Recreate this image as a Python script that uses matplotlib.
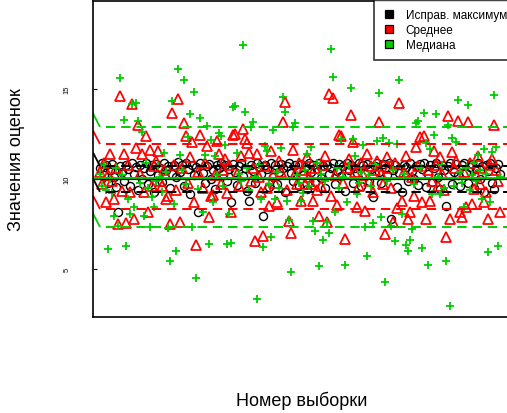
import matplotlib
matplotlib.use("Agg")
import matplotlib.pyplot as plt
from matplotlib.lines import Line2D
import numpy as np

plt.rcParams['font.family'] = ['Liberation Sans', 'DejaVu Sans']
plt.rcParams['lines.scale_dashes'] = False

# ---- data ----
sample_no = list(range(1, 201))

corr_max = [
    10.6, 10.9, 10.2, 10.75, 9.8, 10.5, 10.85, 10.1, 9.56, 8.17, 10.7, 10.4, 9.9, 10.8, 10.55, 9.6, 10.9, 10.3, 10.65, 9.4,
    10.8, 10.0, 10.6, 10.9, 9.7, 10.45, 10.75, 9.3, 10.85, 10.2, 10.6, 9.85, 10.9, 10.5, 10.7, 9.5, 10.3, 10.8, 10.1, 10.95,
    10.4, 10.75, 9.6, 10.9, 10.55, 9.17, 10.8, 10.2, 10.65, 8.17, 10.9, 10.35, 9.75, 10.7, 10.85, 10.0, 10.5, 9.45, 10.8, 10.6,
    10.9, 10.3, 10.75, 9.9, 10.55, 8.72, 10.85, 10.4, 9.65, 10.7, 10.9, 10.15, 10.6, 9.35, 8.78, 10.8, 10.45, 9.8, 10.9, 10.65,
    10.3, 7.94, 10.75, 10.55, 9.55, 10.9, 10.1, 10.8, 9.7, 10.4, 10.85, 10.6, 9.25, 10.7, 10.9, 10.35, 9.9, 10.75, 10.5, 9.6,
    10.85, 10.2, 10.65, 9.45, 10.9, 10.4, 10.75, 9.85, 10.55, 10.9, 10.05, 10.7, 9.5, 10.8, 10.3, 10.6, 10.9, 9.7, 10.45, 10.85,
    10.15, 10.7, 9.35, 10.9, 10.5, 10.8, 9.8, 10.6, 10.35, 10.9, 9.6, 10.75, 10.25, 10.85, 9.9, 10.55, 9.0, 10.7, 10.9, 10.4,
    9.75, 10.85, 10.6, 10.2, 10.9, 7.78, 10.5, 10.75, 9.55, 10.35, 9.28, 10.8, 10.65, 9.9, 10.9, 10.45, 10.0, 10.7, 9.65, 10.85,
    10.55, 10.9, 9.56, 10.3, 10.75, 9.85, 10.6, 10.9, 10.1, 9.45, 10.8, 10.5, 8.5, 10.7, 10.9, 9.7, 10.4, 10.85, 10.2, 9.6,
    10.75, 10.9, 10.35, 9.8, 10.65, 10.85, 9.5, 10.55, 10.9, 10.0, 10.7, 9.3, 10.8, 10.45, 10.9, 9.75, 9.44, 10.6, 10.85, 10.25,
]

mean_est = [
    10.4, 9.7, 10.9, 8.7, 10.2, 11.39, 9.9, 8.89, 10.6, 7.5, 14.61, 9.33, 11.39, 7.56, 10.8, 9.28, 14.17, 7.78, 11.72, 13.0,
    10.3, 11.39, 9.28, 12.39, 8.17, 11.61, 9.6, 10.7, 11.0, 11.56, 9.9, 9.61, 10.5, 8.9, 9.06, 7.5, 13.67, 10.8, 9.4, 14.44,
    7.61, 10.6, 13.11, 12.39, 9.8, 11.22, 12.06, 8.72, 6.33, 10.4, 12.44, 9.5, 10.9, 11.83, 7.89, 9.06, 9.11, 10.2, 12.11, 11.39,
    9.7, 10.5, 11.1, 9.2, 10.8, 8.17, 12.44, 12.5, 10.3, 9.6, 11.3, 12.78, 12.22, 12.0, 11.44, 9.9, 10.6, 6.56, 11.39, 10.1,
    9.28, 6.83, 10.7, 9.5, 8.5, 11.56, 10.2, 9.78, 8.72, 11.0, 10.4, 13.17, 14.28, 9.39, 7.67, 7.0, 11.61, 10.3, 9.72, 10.9,
    8.78, 10.5, 9.72, 11.2, 10.1, 9.72, 8.78, 10.6, 9.4, 7.94, 9.61, 10.8, 11.3, 7.61, 14.72, 9.06, 14.5, 10.2, 8.56, 12.44,
    12.39, 9.8, 6.67, 10.6, 11.1, 13.56, 12.06, 10.4, 8.44, 9.6, 10.9, 10.2, 8.22, 11.4, 9.9, 10.7, 9.3, 10.5, 11.0, 13.17,
    10.3, 9.7, 6.94, 11.22, 10.6, 9.5, 7.61, 10.9, 8.39, 14.22, 8.78, 10.4, 11.3, 7.78, 8.17, 10.1, 9.06, 11.78, 10.7, 12.33,
    8.72, 12.39, 7.78, 10.5, 8.78, 9.9, 11.56, 10.8, 9.6, 11.2, 10.3, 9.4, 6.78, 13.5, 7.78, 11.5, 10.6, 11.0, 13.22, 8.17,
    7.89, 10.4, 8.44, 13.17, 10.9, 8.61, 9.44, 10.2, 11.3, 9.7, 10.6, 8.72, 9.28, 7.78, 10.8, 11.1, 13.0, 10.5, 9.9, 8.17,
]

median_est = [
    10.3, 9.6, 10.8, 9.4, 6.11, 10.0, 9.22, 7.94, 10.6, 7.39, 15.61, 10.2, 13.28, 6.28, 8.89, 8.06, 14.17, 8.44, 14.22, 13.22,
    9.8, 12.61, 7.94, 10.9, 9.5, 7.33, 9.0, 8.44, 9.89, 10.7, 10.1, 9.28, 11.44, 10.4, 7.28, 5.44, 14.33, 8.61, 6.0, 16.11,
    11.33, 10.5, 15.5, 9.7, 12.33, 13.61, 7.33, 14.83, 4.5, 9.44, 13.39, 8.17, 11.33, 12.94, 6.39, 12.17, 8.72, 11.28, 10.2, 12.56,
    12.39, 9.6, 11.89, 6.39, 8.06, 6.44, 14.0, 14.06, 11.44, 10.3, 9.9, 17.44, 13.72, 10.6, 9.4, 12.89, 13.17, 10.1, 3.33, 10.8,
    8.89, 6.22, 11.83, 11.56, 9.7, 6.78, 12.72, 8.89, 10.4, 9.5, 11.72, 14.56, 13.72, 8.78, 7.72, 4.83, 12.89, 13.11, 10.2, 9.8,
    8.78, 9.22, 10.5, 11.39, 9.6, 11.78, 7.67, 7.11, 10.9, 5.17, 10.3, 6.61, 9.9, 7.61, 7.0, 17.22, 15.67, 8.17, 10.6, 9.5,
    12.22, 10.1, 5.22, 8.72, 10.7, 15.06, 12.22, 11.28, 9.17, 9.8, 10.4, 11.89, 7.33, 5.72, 10.2, 9.6, 7.56, 10.8, 12.11, 14.78,
    7.89, 12.28, 4.28, 9.9, 12.0, 7.39, 10.5, 6.56, 11.94, 15.5, 8.06, 10.3, 6.33, 6.0, 6.61, 7.22, 9.7, 13.11, 13.22, 10.6,
    6.17, 13.67, 12.0, 5.22, 11.67, 9.17, 12.44, 13.61, 10.1, 9.17, 10.8, 9.5, 5.44, 13.0, 2.94, 12.28, 9.61, 12.06, 14.39, 10.4,
    9.8, 8.44, 10.6, 14.11, 9.4, 10.2, 10.9, 9.9, 11.33, 10.5, 8.89, 11.67, 10.3, 5.94, 8.72, 11.5, 14.67, 11.78, 6.28, 10.1,
]

# reference lines: [lower, upper] band of each estimator, and centre lines
band_max = [9.28, 10.72]
band_mean = [8.33, 11.94]
band_median = [7.33, 12.89]
true_value = 10.0
median_centre = 10.07

legend_labels = ["Исправ. максимум", "Среднее", "Медиана"]
y_ticks = [5, 10, 15]

GREEN = "#00CD00"
RED = "#FF0000"

W, H = 507, 414
fig = plt.figure(figsize=(W / 100, H / 100), dpi=100)
ax = fig.add_axes([93 / W, (H - 318) / H, (512 - 93) / W, 316 / H])

x = np.array(sample_no)
ax.plot(x, corr_max, linestyle='none', marker='o', markersize=5.8,
        markerfacecolor='none', markeredgecolor='black', markeredgewidth=1.0)
ax.plot(x, mean_est, linestyle='none', marker='^', markersize=7.0,
        markerfacecolor='none', markeredgecolor=RED, markeredgewidth=1.25)
ax.plot(x, median_est, linestyle='none', marker='+', markersize=6.0,
        markeredgecolor=GREEN, markeredgewidth=1.3)

xl = (-2.48, 205.97)
dash = (6.8, 4.2)
for band, col in ((band_median, GREEN), (band_mean, RED), (band_max, 'black')):
    for lev in band:
        ax.plot([xl[0], x[0]], [lev + 0.75, lev], color=col, lw=1.3, solid_capstyle='butt')
        ax.plot([x[0], xl[1]], [lev, lev], color=col, lw=1.4,
                linestyle=(dash[0], dash))

ax.axhline(true_value, color='black', lw=1.6)
ax.axhline(median_centre, color=GREEN, lw=1.3)

ax.set_xlim(*xl)
ax.set_ylim(2.33, 19.89)
ax.set_xticks([])
ax.set_yticks(y_ticks)
ax.tick_params(axis='y', direction='in', length=3, width=0.8, pad=16,
               labelsize=5.5, labelrotation=90)
for lab in ax.get_yticklabels():
    lab.set_va('center')
for sp in ax.spines.values():
    sp.set_linewidth(1.2)

handles = [Line2D([], [], linestyle='none', marker='s', markersize=5.5,
                  markerfacecolor=c, markeredgecolor='black', markeredgewidth=0.9)
           for c in ('black', RED, GREEN)]
leg = fig.legend(handles, legend_labels, loc='upper left',
                 bbox_to_anchor=(374 / W, 1 - 1 / H), bbox_transform=fig.transFigure,
                 fontsize=8.5, frameon=True, fancybox=False, borderaxespad=0,
                 handlelength=1.0, handletextpad=0.95, borderpad=0.75, labelspacing=0.25)
leg.get_frame().set_edgecolor('black')
leg.get_frame().set_linewidth(1.2)

fig.text(17 / W, 1 - 160 / H, "Значения оценок", rotation=90, ha='center', va='center', fontsize=13)
fig.text(302 / W, 1 - 401 / H, "Номер выборки", ha='center', va='center', fontsize=13)

fig.savefig("out.png", dpi=100)
